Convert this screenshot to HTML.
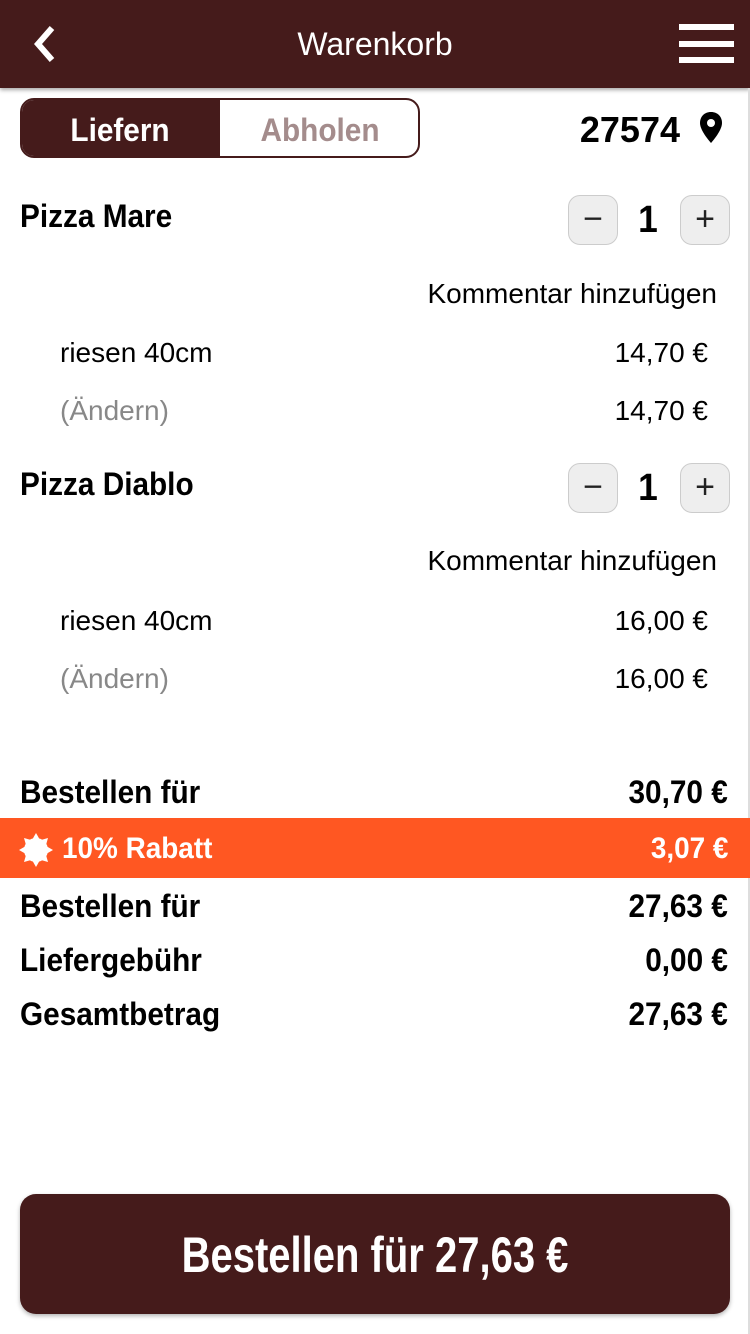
<!DOCTYPE html>
<html><head><meta charset="utf-8"><style>
*{margin:0;padding:0;box-sizing:border-box}
body{width:750px;height:1334px;background:#fff;position:relative;overflow:hidden;font-family:"Liberation Sans Narrow","Liberation Sans",sans-serif;color:#000}
.t{position:absolute;white-space:nowrap;line-height:40px;height:40px}
.b{font-weight:bold;font-size:32px;transform:scaleX(.93);transform-origin:left center}
.b.R{transform-origin:right center}
.r{font-size:28px}
.R{text-align:right}
.hdr{position:absolute;left:0;top:0;width:750px;height:88px;background:#451b1b;box-shadow:0 2px 4px rgba(0,0,0,.35)}
.btn{position:absolute;width:50px;height:50px;border:1px solid #ccc;background:#eee;border-radius:12px;font-size:34px;line-height:46px;text-align:center;color:#222}
</style></head><body>
<div class="hdr"></div>
<svg style="position:absolute;left:30px;top:24px" width="28" height="40"><polyline points="22,4 8,20 22,36" fill="none" stroke="#fff" stroke-width="6"/></svg>
<div class="t" style="left:0;width:750px;top:24px;text-align:center;color:#fff;font-size:32px">Warenkorb</div>
<div style="position:absolute;left:679px;top:24px;width:55px;height:6px;background:#fff"></div>
<div style="position:absolute;left:679px;top:41px;width:55px;height:6px;background:#fff"></div>
<div style="position:absolute;left:679px;top:57px;width:55px;height:6px;background:#fff"></div>
<div style="position:absolute;right:0;top:88px;width:2px;height:1246px;background:#ddd"></div>

<div style="position:absolute;left:20px;top:98px;width:400px;height:60px;border:2px solid #451b1b;border-radius:14px;overflow:hidden">
<div style="position:absolute;left:0;top:0;width:198px;height:60px;background:#451b1b"></div></div>
<div class="t b" style="left:20px;width:200px;top:110px;text-align:center;color:#fff;transform-origin:center">Liefern</div>
<div class="t b" style="left:220px;width:200px;top:110px;text-align:center;color:#a48c8c;transform-origin:center">Abholen</div>
<div class="t b R" style="right:70px;top:110px;font-size:36px;transform:none">27574</div>
<svg style="position:absolute;left:699px;top:112px" width="24" height="32" viewBox="0 0 24 32"><path d="M12 0C5 0 1 5 1 11c0 8 11 20 11 20s11-12 11-20C23 5 19 0 12 0z" fill="#000"/><circle cx="12" cy="11" r="4" fill="#fff"/></svg>

<div class="t b" style="left:20px;top:196px">Pizza Mare</div>
<div class="btn" style="left:568px;top:195px">−</div>
<div class="t b" style="left:628px;width:40px;text-align:center;top:200px;font-size:38px;transform-origin:center">1</div>
<div class="btn" style="left:680px;top:195px">+</div>
<div class="t r R" style="right:33px;top:274px">Kommentar hinzufügen</div>
<div class="t r" style="left:60px;top:333px">riesen 40cm</div>
<div class="t r R" style="right:42px;top:333px">14,70 €</div>
<div class="t r" style="left:60px;top:391px;color:#888">(Ändern)</div>
<div class="t r R" style="right:42px;top:391px">14,70 €</div>

<div class="t b" style="left:20px;top:464px">Pizza Diablo</div>
<div class="btn" style="left:568px;top:463px">−</div>
<div class="t b" style="left:628px;width:40px;text-align:center;top:468px;font-size:38px;transform-origin:center">1</div>
<div class="btn" style="left:680px;top:463px">+</div>
<div class="t r R" style="right:33px;top:541px">Kommentar hinzufügen</div>
<div class="t r" style="left:60px;top:601px">riesen 40cm</div>
<div class="t r R" style="right:42px;top:601px">16,00 €</div>
<div class="t r" style="left:60px;top:659px;color:#888">(Ändern)</div>
<div class="t r R" style="right:42px;top:659px">16,00 €</div>

<div class="t b" style="left:20px;top:772px">Bestellen für</div>
<div class="t b R" style="right:22px;top:772px">30,70 €</div>
<div style="position:absolute;left:0;top:818px;width:750px;height:60px;background:#ff5722"></div>
<svg style="position:absolute;left:19px;top:833px" width="34" height="34" viewBox="-17 -17 34 34"><g fill="#fff"><circle r="12"/><polygon points="0,-17 4,-10 -4,-10" /><polygon points="0,17 4,10 -4,10"/><polygon points="-17,0 -10,4 -10,-4"/><polygon points="17,0 10,4 10,-4"/><polygon points="12,-12 5,-10 10,-5"/><polygon points="-12,-12 -5,-10 -10,-5"/><polygon points="12,12 5,10 10,5"/><polygon points="-12,12 -5,10 -10,5"/></g></svg>
<div class="t b" style="left:62px;top:829px;color:#fff;font-size:30px">10% Rabatt</div>
<div class="t b R" style="right:22px;top:829px;color:#fff;font-size:30px">3,07 €</div>
<div class="t b" style="left:20px;top:886px">Bestellen für</div>
<div class="t b R" style="right:22px;top:886px">27,63 €</div>
<div class="t b" style="left:20px;top:940px">Liefergebühr</div>
<div class="t b R" style="right:22px;top:940px">0,00 €</div>
<div class="t b" style="left:20px;top:994px">Gesamtbetrag</div>
<div class="t b R" style="right:22px;top:994px">27,63 €</div>

<div style="position:absolute;left:20px;top:1194px;width:710px;height:120px;background:#451b1b;border-radius:16px;box-shadow:0 2px 4px rgba(0,0,0,.3)"></div>
<div class="t" style="left:20px;width:710px;top:1227px;height:56px;line-height:56px;text-align:center;color:#fff;font-weight:bold;font-size:50px;transform:scaleX(.8)">Bestellen für 27,63 €</div>
</body></html>
